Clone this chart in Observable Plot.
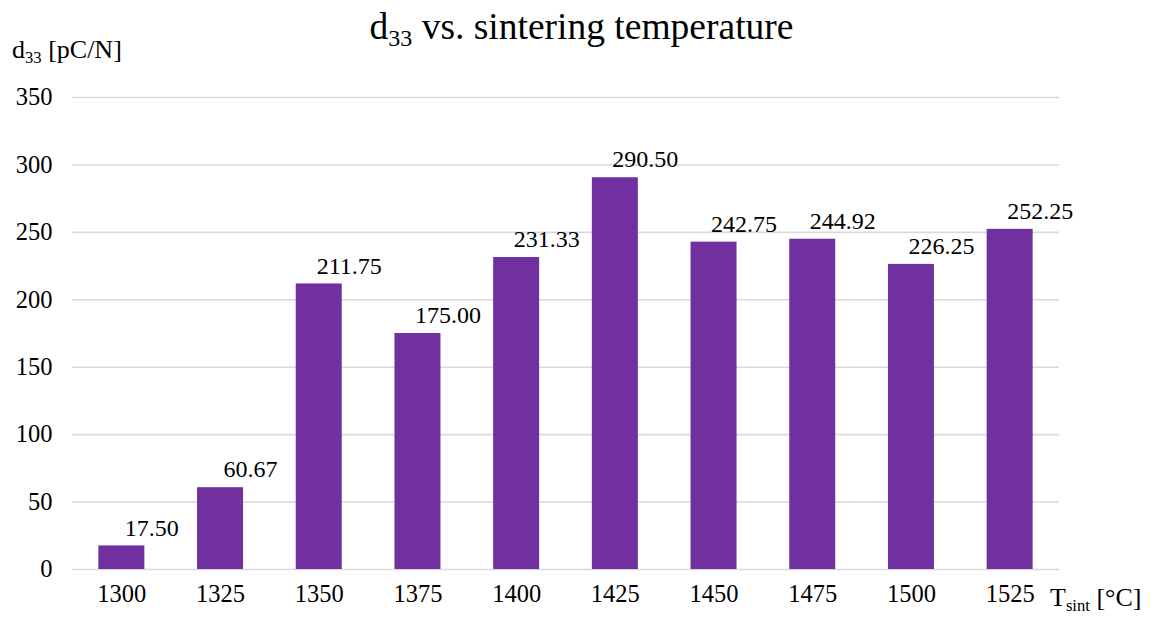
<!DOCTYPE html>
<html>
<head>
<meta charset="utf-8">
<script src="https://cdn.jsdelivr.net/npm/d3@7"></script>
<script src="https://cdn.jsdelivr.net/npm/@observablehq/plot@0.6"></script>
<style>
  html, body { margin: 0; padding: 0; background: #fff; }
  #wrap { position: relative; width: 1163px; height: 617px; font-family: "Liberation Serif", "Times New Roman", serif; color: #000; }
  #wrap svg { position: absolute; left: 0; top: 0; }
  .t { position: absolute; white-space: nowrap; line-height: 1; }
  .t sub { font-size: 0.64em; vertical-align: -0.3em; line-height: 0; }
</style>
</head>
<body>
<div id="wrap">
  <div class="t" id="title" style="left:0; width:1163px; text-align:center; top:8px; font-size:37.5px;">d<sub>33</sub> vs. sintering temperature</div>
  <div class="t" id="ylab" style="left:12px; top:37px; font-size:26px;">d<sub>33</sub> [pC/N]</div>
  <div class="t" id="xlab" style="left:1050px; top:585px; font-size:26px;">T<sub>sint</sub> [°C]</div>
</div>
<script>
const temperatures = ["1300", "1325", "1350", "1375", "1400", "1425", "1450", "1475", "1500", "1525"];
const d33Values = [17.50, 60.67, 211.75, 175.00, 231.33, 290.50, 242.75, 244.92, 226.25, 252.25];
const yTicks = [0, 50, 100, 150, 200, 250, 300, 350];

const data = temperatures.map((t, i) => ({ t, v: d33Values[i] }));
const serif = "Liberation Serif, Times New Roman, serif";

const chart = Plot.plot({
  width: 1163,
  height: 617,
  marginLeft: 72,
  marginRight: 104,
  marginTop: 97,
  marginBottom: 48,
  x: { domain: temperatures, paddingInner: 0.534, paddingOuter: 0.267, round: false, label: null },
  y: { domain: [0, 350], label: null },
  marks: [
    Plot.gridY(yTicks, { stroke: "#d9d9d9", strokeOpacity: 1, strokeWidth: 1.6 }),
    Plot.barY(data, { x: "t", y: "v", fill: "#7030a0" }),
    Plot.text(data, { x: "t", y: "v", text: d => d.v.toFixed(2), dy: -18, dx: 30, fontSize: 24, fontFamily: serif, fill: "#000" }),
    Plot.axisY(yTicks, { tickSize: 0, tickPadding: 20, label: null, fontSize: 24.5, fontFamily: serif }),
    Plot.axisX({ tickSize: 0, tickPadding: 15, label: null, fontSize: 24.5, fontFamily: serif })
  ]
});
chart.style.background = "transparent";
chart.querySelectorAll("text").forEach(t => { t.style.fontFamily = "'Liberation Serif', 'Times New Roman', serif"; });
document.getElementById("wrap").prepend(chart);
</script>
</body>
</html>
